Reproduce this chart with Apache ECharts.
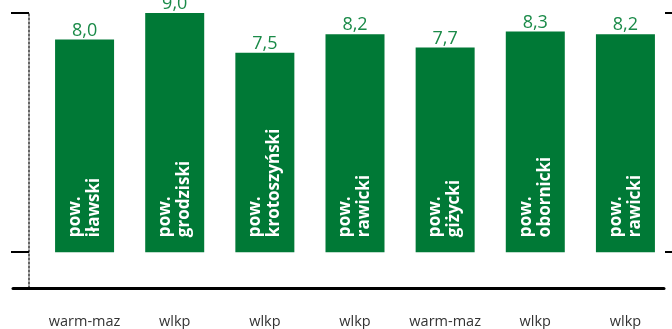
<!DOCTYPE html>
<html>
<head>
<meta charset="utf-8">
<script src="https://cdn.jsdelivr.net/npm/echarts@6/dist/echarts.min.js"></script>
<style>html,body{margin:0;padding:0;background:#fff;}#c{width:672px;height:329px;}</style>
</head>
<body>
<div id="c"></div>
<script>
const regions = ['warm-maz', 'wlkp', 'wlkp', 'wlkp', 'warm-maz', 'wlkp', 'wlkp'];
const districts = ['iławski', 'grodziski', 'krotoszyński', 'rawicki', 'giżycki', 'obornicki', 'rawicki'];
const values = [8.0, 9.0, 7.5, 8.2, 7.7, 8.3, 8.2];
const yTicks = [0, 9];

const FONT = '"Open Sans", sans-serif';
const chart = echarts.init(document.getElementById('c'), null, {renderer: 'canvas'});
chart.setOption({
  animation: false,
  backgroundColor: '#fff',
  grid: [
    {left: 39.5, right: 1.5, top: 13, bottom: 41},
    {left: 13, right: 8, top: 13, bottom: 41}
  ],
  xAxis: [
    {
      type: 'category', gridIndex: 0, data: regions,
      axisLine: {show: false}, axisTick: {show: false},
      axisLabel: {interval: 0, hideOverlap: false, margin: 26, fontSize: 14.5, color: '#333', fontFamily: FONT}
    },
    {
      type: 'category', gridIndex: 1, data: [''],
      axisLine: {show: true, onZero: false, lineStyle: {color: '#000', width: 3}},
      axisTick: {show: false}, axisLabel: {show: false}
    }
  ],
  yAxis: [
    {
      type: 'value', gridIndex: 0, min: -1.35, max: 9, offset: 10.5,
      axisLine: {show: true, lineStyle: {color: '#333', width: 1.5, type: [2, 2]}},
      axisTick: {show: true, customValues: yTicks, length: 18, lineStyle: {color: '#000', width: 2}},
      axisLabel: {show: false}, splitLine: {show: false}
    },
    {
      type: 'value', gridIndex: 0, min: -1.35, max: 9, offset: 10.5,
      axisLine: {show: false},
      axisTick: {show: true, inside: true, customValues: yTicks, length: 16, lineStyle: {color: '#000', width: 2}},
      axisLabel: {show: false}, splitLine: {show: false}
    },
    {type: 'value', gridIndex: 1, show: false}
  ],
  series: [
    {
      type: 'bar', xAxisIndex: 0, yAxisIndex: 0, data: values, barWidth: 59,
      itemStyle: {color: '#007936'},
      label: {
        show: true, position: 'insideBottom', distance: 15, rotate: 90,
        align: 'left', verticalAlign: 'middle',
        color: '#fff', fontWeight: 'bold', fontSize: 17, lineHeight: 19, fontFamily: FONT,
        formatter: p => 'pow.\n' + districts[p.dataIndex]
      }
    },
    {
      type: 'bar', xAxisIndex: 0, yAxisIndex: 0, data: values, barWidth: 59, barGap: '-100%',
      itemStyle: {color: 'rgba(0,0,0,0)'},
      label: {
        show: true, position: 'top', distance: 0,
        color: '#1a8a48', fontSize: 18, fontFamily: FONT,
        formatter: p => p.value.toFixed(1).replace('.', ',')
      }
    }
  ]
});
</script>
</body>
</html>
